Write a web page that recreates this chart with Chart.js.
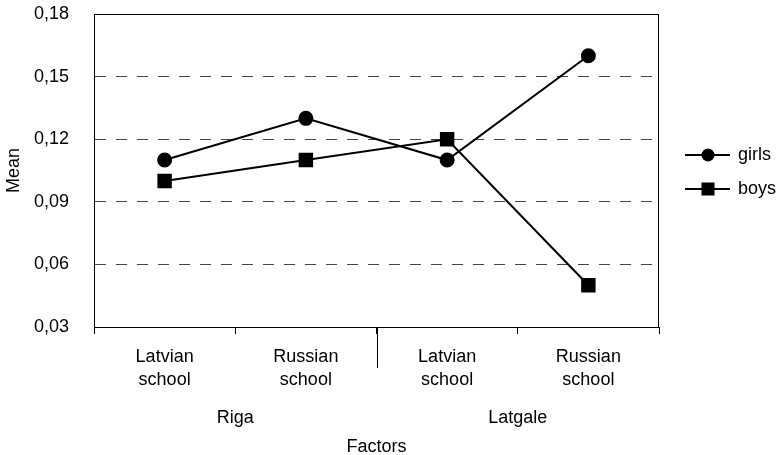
<!DOCTYPE html>
<html>
<head>
<meta charset="utf-8">
<script src="https://cdn.jsdelivr.net/npm/chart.js@4/dist/chart.umd.min.js"></script>
<style>
  html, body { margin: 0; padding: 0; background: #fff; }
</style>
</head>
<body>
<canvas id="meanChart" width="778" height="455"></canvas>
<script>
// data
const categories = [['Latvian', 'school'], ['Russian', 'school'], ['Latvian', 'school'], ['Russian', 'school']];
const groups = ['Riga', 'Latgale'];
const girls = [0.11, 0.13, 0.11, 0.16];
const boys = [0.10, 0.11, 0.12, 0.05];
const yTicks = [0.03, 0.06, 0.09, 0.12, 0.15, 0.18];

const fontFam = '"Liberation Sans", Arial, sans-serif';
const font = { family: fontFam, size: 18 };

// box round the plot, long separator between groups, group names, legend
const extras = {
  id: 'extras',
  afterDraw(chart) {
    const c = chart.ctx;
    const a = chart.chartArea;
    const x = chart.scales.x;
    c.save();
    c.strokeStyle = '#000';
    c.lineWidth = 1;
    c.setLineDash([]);
    c.strokeRect(a.left + 0.5, a.top + 0.5, a.right - a.left - 1, a.bottom - a.top);

    // separator between Riga and Latgale
    const sep = Math.round((x.getPixelForValue(1) + x.getPixelForValue(2)) / 2) + 0.5;
    c.beginPath();
    c.moveTo(sep, a.bottom);
    c.lineTo(sep, a.bottom + 41);
    c.stroke();

    c.fillStyle = '#000';
    c.font = font.size + 'px ' + fontFam;
    c.textAlign = 'center';
    c.textBaseline = 'middle';
    for (let g = 0; g < groups.length; g++) {
      const gx = (x.getPixelForValue(g * 2) + x.getPixelForValue(g * 2 + 1)) / 2;
      c.fillText(groups[g], gx, a.bottom + 91);
    }

    // legend
    const lx = a.right + 26;
    chart.data.datasets.forEach((ds, i) => {
      const ly = 155 + i * 34;
      c.strokeStyle = '#000';
      c.lineWidth = 2;
      c.beginPath();
      c.moveTo(lx, ly);
      c.lineTo(lx + 45, ly);
      c.stroke();
      const mx = lx + 23;
      if (ds.pointStyle == 'circle') {
        c.beginPath();
        c.arc(mx, ly, 6.5, 0, Math.PI * 2);
        c.fill();
      } else {
        c.fillRect(mx - 6.5, ly - 6.5, 13, 13);
      }
      c.textAlign = 'left';
      c.fillText(ds.label, lx + 53, ly);
    });
    c.restore();
  }
};

const ctx = document.getElementById('meanChart').getContext('2d');
const meanChart = new Chart(ctx, {
  type: 'line',
  data: {
    labels: categories,
    datasets: [{
      label: 'girls',
      data: girls,
      borderColor: '#000',
      backgroundColor: '#000',
      borderWidth: 2,
      pointStyle: 'circle',
      pointRadius: 6.5,
      pointHoverRadius: 6.5,
      tension: 0
    }, {
      label: 'boys',
      data: boys,
      borderColor: '#000',
      backgroundColor: '#000',
      borderWidth: 2,
      pointStyle: 'rect',
      pointRadius: 8.8,
      pointHoverRadius: 8.8,
      tension: 0
    }]
  },
  options: {
    responsive: false,
    animation: false,
    layout: { padding: { left: 3, right: 119, top: 14, bottom: 0 } },
    plugins: {
      legend: { display: false },
      tooltip: { enabled: false }
    },
    scales: {
      x: {
        offset: true,
        afterFit(axis) { axis.height = 128; },
        grid: { offset: true, drawOnChartArea: false, color: '#000', tickLength: 7 },
        border: { color: '#000' },
        ticks: { color: '#000', font: { family: fontFam, size: 18, lineHeight: 1.25 }, padding: 12, maxRotation: 0, autoSkip: false },
        title: { display: true, text: 'Factors', color: '#000', font: font, padding: { top: 40, bottom: -3 } }
      },
      y: {
        min: yTicks[0],
        max: yTicks[yTicks.length - 1],
        afterBuildTicks(axis) { axis.ticks = yTicks.map(v => ({ value: v })); },
        afterFit(axis) { axis.width = 91; axis.paddingTop = 0; axis.paddingBottom = 0; },
        grid: {
          drawTicks: false,
          tickLength: 0,
          color: (c) => (c.tick && (c.tick.value == yTicks[0] || c.tick.value == yTicks[yTicks.length - 1])) ? 'rgba(0,0,0,0)' : '#444',
          lineWidth: 1
        },
        border: { color: '#000', dash: [11, 10] },
        ticks: {
          color: '#000', font: font, padding: 25,
          callback: (v) => v.toFixed(2).replace('.', ',')
        },
        title: { display: true, text: 'Mean', color: '#000', font: font, padding: { top: 0, bottom: 0 } }
      }
    }
  },
  plugins: [extras]
});
</script>
</body>
</html>
